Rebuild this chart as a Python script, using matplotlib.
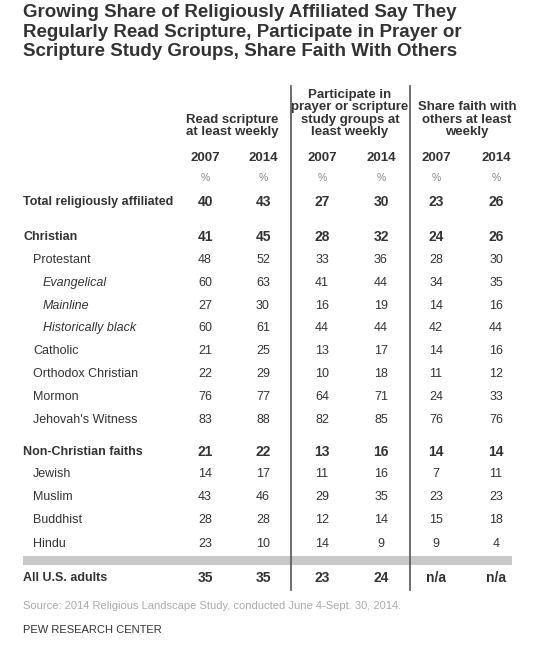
import matplotlib.pyplot as plt

# ==============================================================================
# Data
# ==============================================================================
TITLE = ("Growing Share of Religiously Affiliated Say They\n"
         "Regularly Read Scripture, Participate in Prayer or\n"
         "Scripture Study Groups, Share Faith With Others")
GROUPS = ["Read scripture\nat least weekly",
          "Participate in\nprayer or scripture\nstudy groups at\nleast weekly",
          "Share faith with\nothers at least\nweekly"]
YEARS = ["2007", "2014"]
LABELS = ["Total religiously affiliated", "Christian", "Protestant", "Evangelical",
          "Mainline", "Historically black", "Catholic", "Orthodox Christian",
          "Mormon", "Jehovah's Witness", "Non-Christian faiths", "Jewish",
          "Muslim", "Buddhist", "Hindu", "All U.S. adults"]
# 0 = bold top-level, 1 = indented, 2 = italic double indent
LEVELS = [0, 0, 1, 2, 2, 2, 1, 1, 1, 1, 0, 1, 1, 1, 1, 0]
READ_07 = [40, 41, 48, 60, 27, 60, 21, 22, 76, 83, 21, 14, 43, 28, 23, 35]
READ_14 = [43, 45, 52, 63, 30, 61, 25, 29, 77, 88, 22, 17, 46, 28, 10, 35]
PRAY_07 = [27, 28, 33, 41, 16, 44, 13, 10, 64, 82, 13, 11, 29, 12, 14, 23]
PRAY_14 = [30, 32, 36, 44, 19, 44, 17, 18, 71, 85, 16, 16, 35, 14, 9, 24]
SHARE_07 = [23, 24, 28, 34, 14, 42, 14, 11, 24, 76, 14, 7, 23, 15, 9, "n/a"]
SHARE_14 = [26, 26, 30, 35, 16, 44, 16, 12, 33, 76, 14, 11, 23, 18, 4, "n/a"]
SOURCE = "Source: 2014 Religious Landscape Study, conducted June 4-Sept. 30, 2014."

# ==============================================================================
# Layout (pixel coordinates)
# ==============================================================================
W, H = 535, 647
ROW_Y = [202, 237, 260, 283, 306, 328, 351, 374, 397, 420, 452, 474, 497, 520, 544, 578]
COL_X = [205, 263, 322, 381, 436, 496]
GROUP_X = [232, 350, 467]
DARK = "#333333"

plt.rcParams['font.family'] = ['Liberation Sans', 'DejaVu Sans']
fig = plt.figure(figsize=(W / 100, H / 100), dpi=100)
ax = fig.add_axes([0, 0, 1, 1])
ax.set_xlim(0, W)
ax.set_ylim(H, 0)
ax.axis('off')

ax.text(23, 4, TITLE, fontsize=13.5, fontweight='bold', color=DARK,
        va='top', ha='left', linespacing=1.2)

for gx, g in zip(GROUP_X, GROUPS):
    ax.text(gx, 138, g, fontsize=9.5, fontweight='bold', color=DARK,
            ha='center', va='bottom', linespacing=1.05)
for i, cx in enumerate(COL_X):
    ax.text(cx, 158, YEARS[i % 2], fontsize=9.5, fontweight='bold', color=DARK,
            ha='center', va='center')
    ax.text(cx, 178, "%", fontsize=7.5, color="#888888", ha='center', va='center')

for x in [291, 410]:
    ax.plot([x, x], [86, 590], color="#555555", lw=1.2)

ax.fill_between([23, 512], 556, 565, color="#c8c8c8", lw=0)

cols = [READ_07, READ_14, PRAY_07, PRAY_14, SHARE_07, SHARE_14]
for r, (lab, lev, y) in enumerate(zip(LABELS, LEVELS, ROW_Y)):
    bold = lev == 0
    indent = {0: 23, 1: 33, 2: 43}[lev]
    ax.text(indent, y, lab, fontsize=9, color=DARK, va='center', ha='left',
            fontweight='bold' if bold else 'normal',
            fontstyle='italic' if lev == 2 else 'normal')
    for cx, vals in zip(COL_X, cols):
        ax.text(cx, y, str(vals[r]), fontsize=10 if bold else 9, color=DARK,
                ha='center', va='center', fontweight='bold' if bold else 'normal')

ax.text(23, 606, SOURCE, fontsize=8, color="#aaaaaa", va='center', ha='left')
ax.text(23, 630, "PEW RESEARCH CENTER", fontsize=8, color=DARK, va='center', ha='left')

fig.savefig("out.png", dpi=100)
